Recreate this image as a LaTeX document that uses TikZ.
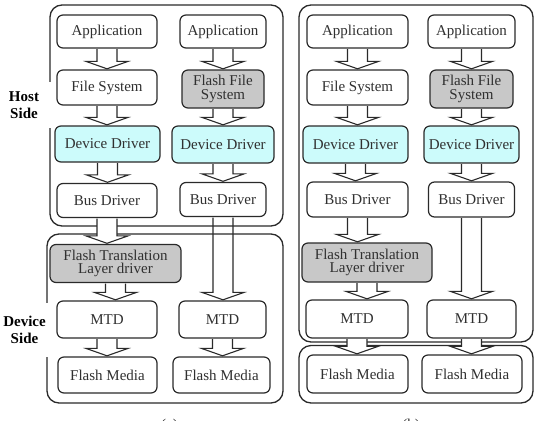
\documentclass[tikz,border=0pt]{standalone}
\usepackage{fontspec}
\setmainfont{Liberation Serif}
\usetikzlibrary{calc}
\pgfdeclarelayer{bg}
\pgfdeclarelayer{mid}
\pgfsetlayers{bg,mid,main}
\definecolor{txt}{HTML}{303030}
\definecolor{edge}{HTML}{2A2A2A}
\definecolor{cyanfill}{HTML}{CCFBFB}
\definecolor{greyfill}{HTML}{C8C8C8}
\tikzset{
  box/.style={draw=edge, line width=1.2pt, rounded corners=6pt, fill=white,
    text=txt, align=center, inner sep=1pt,
    font=\fontsize{15}{15.5}\selectfont},
  cbox/.style={box, fill=cyanfill},
  gbox/.style={box, fill=greyfill},
  outer/.style={draw=edge, line width=1.3pt, rounded corners=12pt},
  blockarr/.style={draw=edge, line width=1.1pt, fill=white, line join=miter},
  sidelabel/.style={fill=white, align=center, text=black, inner sep=0pt,
    font=\fontsize{15}{16.5}\selectfont\bfseries},
  caption/.style={text=txt, font=\fontsize{15}{16}\selectfont}
}
\newcommand\harrow[3][]{%
  \begin{pgfonlayer}{mid}
  \draw[blockarr,#1] let \p1=(#2.south), \p2=(#3.north) in
    (\x1-10pt,\y1-0.6pt) -- (\x1-10pt,\y2+8pt) -- (\x1-21pt,\y2+8pt) --
    (\x1,\y2+0.6pt) -- (\x1+21pt,\y2+8pt) -- (\x1+10pt,\y2+8pt) -- (\x1+10pt,\y1-0.6pt);
  \end{pgfonlayer}}
\begin{document}
\begin{tikzpicture}[x=1pt,y=-1pt]
\useasboundingbox (0,0) rectangle (537,420);
% ---------- panel (a) ----------
\node[box, minimum width=100, minimum height=33] (appA1) at (107,31.5) {Application};
\node[box, minimum width=100, minimum height=35] (fsA) at (107,87.5) {File System};
\node[cbox, minimum width=105, minimum height=36] (ddA1) at (107.5,144) {Device Driver};
\node[box, minimum width=100, minimum height=34] (busA1) at (107,200.5) {Bus Driver};
\node[box, minimum width=86, minimum height=33] (appA2) at (223,31.5) {Application};
\node[gbox, minimum width=82, minimum height=38] (ffsA) at (223,89) {Flash File\\[-2pt]System};
\node[cbox, minimum width=102, minimum height=37] (ddA2) at (223,144.5) {Device Driver};
\node[box, minimum width=86, minimum height=34] (busA2) at (223,199.5) {Bus Driver};
\node[gbox, minimum width=131, minimum height=38] (ftlA) at (115.5,263.5) {Flash Translation\\[-2pt]Layer driver};
\node[box, minimum width=100, minimum height=37] (mtdA1) at (107,319.5) {MTD};
\node[box, minimum width=87, minimum height=37] (mtdA2) at (222.5,319.5) {MTD};
\node[box, minimum width=99, minimum height=36] (fmA1) at (107.5,375) {Flash Media};
\node[box, minimum width=97, minimum height=36] (fmA2) at (221.5,375) {Flash Media};
% ---------- panel (b) ----------
\node[box, minimum width=101, minimum height=33] (appB1) at (357.5,31.5) {Application};
\node[box, minimum width=101, minimum height=35] (fsB) at (357.5,87.5) {File System};
\node[cbox, minimum width=105, minimum height=37] (ddB1) at (355.5,144.5) {Device Driver};
\node[box, minimum width=101, minimum height=35] (busB1) at (357.5,199.5) {Bus Driver};
\node[box, minimum width=87, minimum height=33] (appB2) at (471.5,31.5) {Application};
\node[gbox, minimum width=83, minimum height=38] (ffsB) at (471.5,89) {Flash File\\[-2pt]System};
\node[cbox, minimum width=95, minimum height=37] (ddB2) at (471.5,144.5) {Device Driver};
\node[box, minimum width=86, minimum height=35] (busB2) at (471.5,199.5) {Bus Driver};
\node[gbox, minimum width=130, minimum height=39] (ftlB) at (367,262.5) {Flash Translation\\[-2pt]Layer driver};
\node[box, minimum width=102, minimum height=38] (mtdB1) at (357,319) {MTD};
\node[box, minimum width=89, minimum height=38] (mtdB2) at (471.5,319) {MTD};
\node[box, minimum width=101, minimum height=38] (fmB1) at (357.5,374) {Flash Media};
\node[box, minimum width=100, minimum height=38] (fmB2) at (472,374) {Flash Media};
% ---------- outer frames ----------
\begin{pgfonlayer}{bg}
\draw[outer] (50,5) rectangle (283,226);
\draw[outer] (47,234) rectangle (283,403);
\draw[outer] (299,5) rectangle (533,342);
\draw[outer] (299,345.5) rectangle (533,403);
\end{pgfonlayer}
% ---------- arrows (a) ----------
\harrow{appA1}{fsA}
\harrow{fsA}{ddA1}
\harrow{ddA1}{busA1}
\harrow{busA1}{ftlA}
\harrow{ftlA}{mtdA1}
\harrow{mtdA1}{fmA1}
\harrow{appA2}{ffsA}
\harrow{ffsA}{ddA2}
\harrow{ddA2}{busA2}
\harrow[fill=none]{busA2}{mtdA2}
\harrow{mtdA2}{fmA2}
% ---------- arrows (b) ----------
\harrow{appB1}{fsB}
\harrow{fsB}{ddB1}
\harrow{ddB1}{busB1}
\harrow{busB1}{ftlB}
\harrow{ftlB}{mtdB1}
\harrow{mtdB1}{fmB1}
\harrow{appB2}{ffsB}
\harrow{ffsB}{ddB2}
\harrow{ddB2}{busB2}
\harrow{busB2}{mtdB2}
\harrow{mtdB2}{fmB2}
% ---------- side labels ----------
\node[sidelabel, minimum width=56, minimum height=46] (host) at (24,105) {Host\\Side};
\node[sidelabel, minimum width=54, minimum height=54] (dev) at (24.5,330) {Device\\Side};
% ---------- captions ----------
\node[caption] (capa) at (169.5,426) {(a)};
\node[caption] (capb) at (411,426) {(b)};
\end{tikzpicture}
\end{document}
